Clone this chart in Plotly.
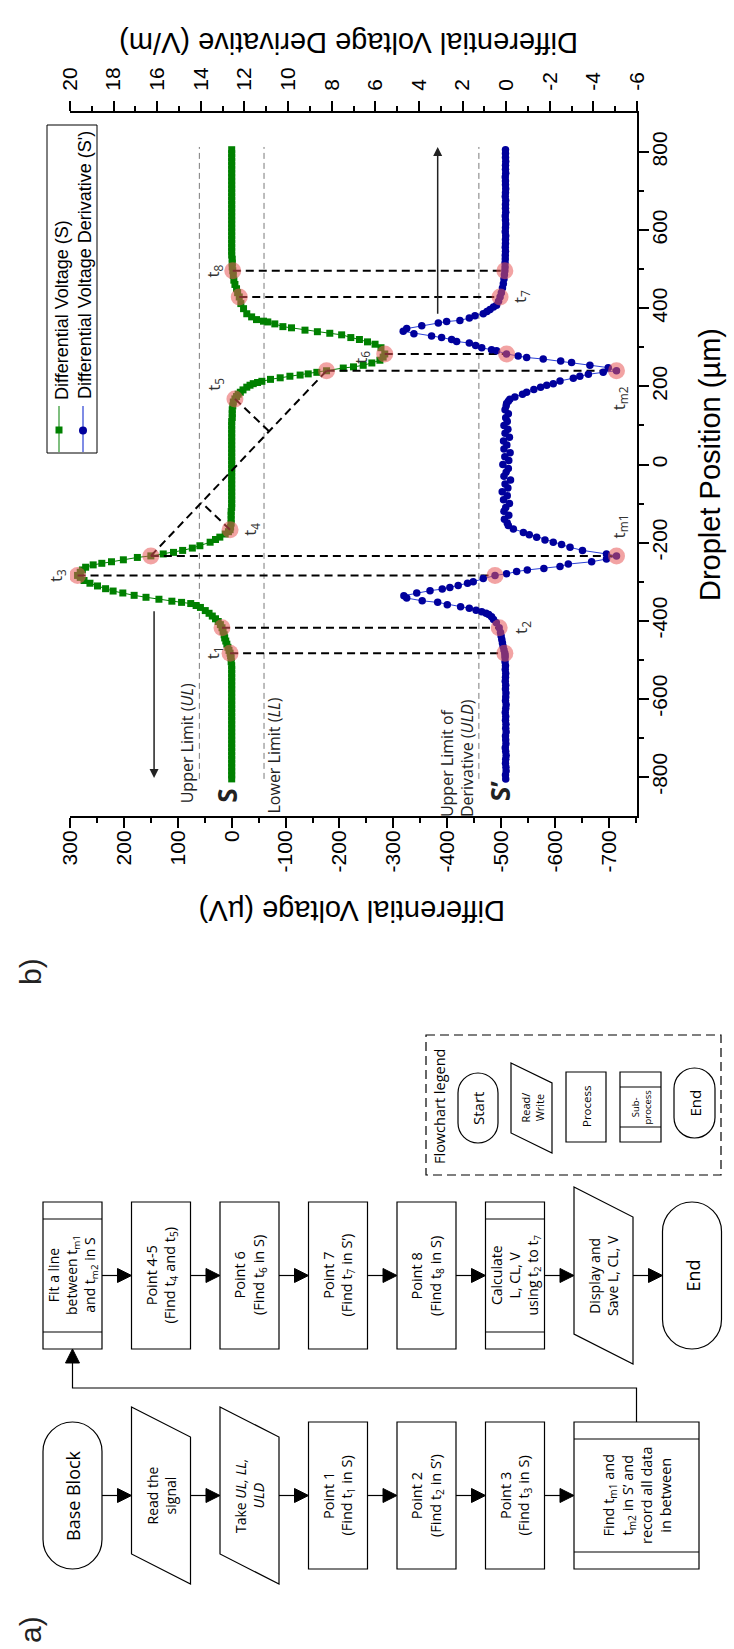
import plotly.graph_objects as go

W, H = 734, 1649

# ---------------- data ----------------
# Differential voltage S (µV) against droplet position (µm)
S_pos = [-805, -795, -785, -775, -765, -755, -745, -735, -725, -715, -705, -695, -685, -675, -665, -655,
         -645, -635, -625, -615, -605, -595, -585, -575, -565, -555, -545, -535, -525, -515, -505, -495,
         -489, -483, -476, -468, -460, -452, -444, -436, -427, -418, -410, -402, -395, -388, -381, -374,
         -366, -361, -356, -353, -350, -345, -340, -335, -329, -324, -318, -311, -304, -297, -289, -284,
         -276, -270, -263, -257, -253, -249, -244, -238, -234, -229, -225, -220, -214, -208, -199, -192,
         -186, -178, -172, -167,
         -160, -150, -140, -130, -120, -110, -100, -90, -80, -70, -60, -50, -40, -30, -20, -10, 0,
         10, 20, 30, 40, 50, 60, 70, 80, 90, 100, 110, 120, 130, 140, 150, 160,
         168, 174, 180, 185, 191, 198, 203, 207, 210, 213, 218, 222, 226, 229, 232, 236, 240, 247, 250, 254,
         260, 267, 275, 283, 299, 308, 314, 320, 325, 332, 336, 340, 344, 350, 353, 360, 365, 367, 371, 378,
         386, 399, 412, 429, 440, 450, 461, 472, 484, 496,
         506, 516, 526, 536, 546, 556, 566, 576, 586, 596, 606, 616, 626, 636, 646, 656, 666, 676, 686, 696,
         706, 716, 726, 736, 746, 756, 766, 776, 786, 796, 806]
S_uv = [0, 0, 0, 0, 0, 0, 0, 0, 0, 0, 0, 0, 0, 0, 0, 0,
        0, 0, 0, 0, 0, 0, 0, 0, 0, 0, 0, 0, 0, 0, 1, 1,
        2, 3, 5, 7, 9, 11, 13, 14, 16, 18, 21, 25, 30, 36, 42, 49,
        58, 66, 76, 93, 111, 135, 159, 181, 202, 220, 234, 249, 263, 274, 281, 286,
        281, 277, 271, 257, 241, 223, 201, 175, 150, 127, 108, 91, 73, 59, 40, 30,
        22, 12, 6, 3,
        2, 1, 1, 1, 1, 0, 0, 0, 0, 0, 0, 0, 0, 0, 0, 0, 0,
        0, 0, 0, 0, 0, 0, 0, 0, 0, 0, 0, -1, -1, -1, -2, -3,
        -6, -9, -12, -16, -21, -28, -34, -40, -48, -56, -72, -90, -108, -127, -142, -158, -176, -207, -226, -244,
        -260, -275, -281, -284, -277, -266, -252, -237, -221, -204, -182, -159, -136, -111, -95, -80, -67, -59, -46, -37,
        -28, -22, -17, -14, -11, -9, -6, -4, -3, -2,
        -1, -1, -1, 0, 0, 0, 0, 0, 0, 0, 0, 0, 0, 0, 0, 0, 0, 0, 0, 0,
        0, 0, 0, 0, 0, 0, 0, 0, 0, 0, 0]

# Differential voltage derivative S' (V/m) against droplet position (µm)
D_pos = [-805, -795, -785, -775, -765, -755, -745, -735, -725, -715, -705, -695, -685, -675, -665, -655,
         -645, -635, -625, -615, -605, -595, -585, -575, -565, -555, -545, -535, -525, -515, -505, -495,
         -489, -483, -475, -466, -457, -448, -439, -430, -418, -405, -397, -390, -384, -381, -377, -373,
         -368, -364, -359, -353, -349, -342, -336, -329, -323, -319, -315, -310, -304, -300, -292, -284,
         -280, -274, -270, -266, -261, -255, -249, -242, -234, -229, -220, -212, -205, -199, -193, -186,
         -180, -174, -165, -156,
         -150, -140, -130, -120, -110, -100, -90, -80, -70, -60, -50, -40, -30, -20, -10, 0,
         10, 20, 30, 40, 50, 60, 70, 80, 90, 100, 110, 120, 130, 140, 150,
         156, 162, 167, 173, 180, 185, 192, 198, 203, 207, 214, 221, 226, 231, 236, 240, 248, 254, 261, 265,
         270, 274, 278, 283, 291, 294, 299, 305, 311, 315, 320, 325, 329, 335, 341, 348, 355, 362, 366, 369,
         375, 381, 386, 392, 397, 403, 408, 418, 429, 440, 452, 463, 475, 486, 496,
         506, 516, 526, 536, 546, 556, 566, 576, 586, 596, 606, 616, 626, 636, 646, 656, 666, 676, 686, 696,
         706, 716, 726, 736, 746, 756, 766, 776, 786, 796, 806]
D_val = [0.02, 0.03, 0.00, 0.01, 0.03, 0.02, 0.00, 0.02, 0.04, 0.01, 0.02, 0.03, 0.00, 0.02, 0.01, 0.03,
         0.02, 0.04, 0.02, 0.00, 0.03, 0.02, 0.01, 0.03, 0.02, 0.04, 0.03, 0.02, 0.04, 0.03, 0.05, 0.05,
         0.05, 0.06, 0.10, 0.14, 0.17, 0.20, 0.23, 0.26, 0.32, 0.45, 0.58, 0.67, 0.80, 0.92, 1.12, 1.38,
         1.69, 2.09, 2.70, 3.14, 3.85, 4.56, 4.69, 4.10, 3.49, 2.93, 2.58, 2.20, 1.77, 1.51, 1.05, 0.51,
         -0.02, -0.48, -0.97, -1.73, -2.47, -2.85, -3.92, -4.60, -5.06, -4.60, -3.50, -2.93, -2.54, -2.16, -1.78, -1.40,
         -1.06, -0.79, -0.33, -0.10,
         -0.05, 0.08, -0.12, 0.10, 0.02, -0.15, 0.12, -0.05, 0.18, -0.08, 0.05, -0.20, 0.10, 0.00, -0.10, 0.15,
         -0.12, 0.06, -0.18, 0.10, -0.03, 0.12, -0.15, 0.05, -0.08, 0.10, -0.05, 0.02, -0.10, 0.05, 0.00,
         -0.02, -0.10, -0.17, -0.40, -0.75, -0.94, -1.27, -1.58, -1.86, -2.16, -2.47, -3.08, -3.38, -3.77, -4.45, -5.06, -4.68, -3.84, -3.00, -2.50,
         -1.70, -0.94, -0.55, -0.02, 0.44, 0.67, 1.12, 1.40, 1.69, 2.27, 2.50, 2.96, 3.42, 4.23, 4.72, 4.56, 3.87, 3.11, 2.73, 2.12,
         1.69, 1.43, 1.05, 0.88, 0.74, 0.58, 0.44, 0.35, 0.28, 0.22, 0.17, 0.13, 0.10, 0.08, 0.06,
         0.05, 0.05, 0.04, 0.04, 0.03, 0.04, 0.03, 0.03, 0.02, 0.04, 0.03, 0.02, 0.03, 0.04, 0.02, 0.03, 0.03, 0.02, 0.04, 0.03,
         0.02, 0.03, 0.03, 0.04, 0.02, 0.03, 0.03, 0.02, 0.03, 0.03, 0.03]

assert len(S_pos) == len(S_uv) and len(D_pos) == len(D_val)

# characteristic points (positions in µm)
S_KEYS = {"t1": -483, "t2": -418, "t3": -284, "tm1": -234, "t4": -167,
          "t5": 168, "tm2": 240, "t6": 283, "t7": 429, "t8": 496}
D_KEYS = {"t1": -483, "t2": -418, "t3": -284, "tm1": -234,
          "tm2": 240, "t6": 283, "t7": 429, "t8": 496}
LINKED = ["t1", "t2", "t3", "tm1", "tm2", "t6", "t7", "t8"]

UL, LL = 60, -60          # µV
ULD = 1.25                # V/m
LIMIT_SPAN = [-805, 813]  # µm

UV_RANGE = [300, -752]
D_RANGE = [20, -6]
POS_RANGE = [-900, 900]
UV_TICKS = [300, 200, 100, 0, -100, -200, -300, -400, -500, -600, -700]
UV_MINOR = [250, 150, 50, -50, -150, -250, -350, -450, -550, -650, -750]
D_TICKS = [20, 18, 16, 14, 12, 10, 8, 6, 4, 2, 0, -2, -4, -6]
D_MINOR = [19, 17, 15, 13, 11, 9, 7, 5, 3, 1, -1, -3, -5]
POS_TICKS = [-800, -600, -400, -200, 0, 200, 400, 600, 800]
POS_MINOR = [-700, -500, -300, -100, 100, 300, 500, 700]

# ---------------- styling ----------------
GREEN = "#008000"
NAVY = "#00009c"
BLUE_LINE = "#2b40d6"
HILITE = "rgba(232,88,88,0.55)"
AXFONT = "Liberation Sans, Arial, sans-serif"
TXFONT = "Open Sans, sans-serif"
DASH_BLACK = "8px,5px"
DASH_GRAY = "6px,4px"

FX0, FX1, FY0, FY1 = 70, 637, 113, 816   # frame of the chart in pixels


def px(x):
    return x / W


def py(y):
    return 1 - y / H


def d2uv(d):
    return UV_RANGE[0] + (d - D_RANGE[0]) * (UV_RANGE[1] - UV_RANGE[0]) / (D_RANGE[1] - D_RANGE[0])


def s_at(p):
    return S_uv[S_pos.index(p)]


def d_at(p):
    return D_val[D_pos.index(p)]


KX = (FX1 - FX0) / abs(UV_RANGE[1] - UV_RANGE[0])
KY = (FY1 - FY0) / abs(POS_RANGE[1] - POS_RANGE[0])


def foot(p, a, b):
    """Foot of the perpendicular from p onto line a-b, measured on screen."""
    P = (p[0] * KX, p[1] * KY)
    A = (a[0] * KX, a[1] * KY)
    B = (b[0] * KX, b[1] * KY)
    dx, dy = B[0] - A[0], B[1] - A[1]
    t = ((P[0] - A[0]) * dx + (P[1] - A[1]) * dy) / (dx * dx + dy * dy)
    return ((A[0] + t * dx) / KX, (A[1] + t * dy) / KY)


def note(**kw):
    base = dict(showarrow=False, xanchor="center", yanchor="middle")
    base.update(kw)
    return base


fig = go.Figure()

# S trace
fig.add_trace(go.Scatter(x=S_uv, y=S_pos, mode="lines+markers", xaxis="x", yaxis="y",
                         line=dict(color=GREEN, width=1),
                         marker=dict(symbol="square", size=7, color=GREEN),
                         hoverinfo="skip"))

# dashed connectors between S and S' at the characteristic points
for k in LINKED:
    p = S_KEYS[k]
    fig.add_trace(go.Scatter(x=[s_at(p), d2uv(d_at(D_KEYS[k]))], y=[p, D_KEYS[k]], mode="lines",
                             xaxis="x", yaxis="y",
                             line=dict(color="black", width=2, dash=DASH_BLACK), hoverinfo="skip"))

# fitted line between tm1 and tm2 in S, with perpendiculars from t4 and t5
A = (s_at(S_KEYS["tm1"]), S_KEYS["tm1"])
B = (s_at(S_KEYS["tm2"]), S_KEYS["tm2"])
fig.add_trace(go.Scatter(x=[A[0], B[0]], y=[A[1], B[1]], mode="lines", xaxis="x", yaxis="y",
                         line=dict(color="black", width=2, dash=DASH_BLACK), hoverinfo="skip"))
for k in ["t4", "t5"]:
    P = (s_at(S_KEYS[k]), S_KEYS[k])
    F = foot(P, A, B)
    fig.add_trace(go.Scatter(x=[P[0], F[0]], y=[P[1], F[1]], mode="lines", xaxis="x", yaxis="y",
                             line=dict(color="black", width=2, dash=DASH_BLACK), hoverinfo="skip"))

# highlighted points on S
fig.add_trace(go.Scatter(x=[s_at(p) for p in S_KEYS.values()], y=list(S_KEYS.values()),
                         mode="markers", xaxis="x", yaxis="y",
                         marker=dict(size=17, color=HILITE), hoverinfo="skip"))

# S' trace
fig.add_trace(go.Scatter(x=D_val, y=D_pos, mode="lines+markers", xaxis="x2", yaxis="y",
                         line=dict(color=BLUE_LINE, width=1),
                         marker=dict(symbol="circle", size=7.5, color=NAVY),
                         hoverinfo="skip"))
fig.add_trace(go.Scatter(x=[d_at(p) for p in D_KEYS.values()], y=list(D_KEYS.values()),
                         mode="markers", xaxis="x2", yaxis="y",
                         marker=dict(size=17, color=HILITE), hoverinfo="skip"))

shapes = []
annotations = []

# limit lines
for xv, ref in [(UL, "x"), (LL, "x"), (ULD, "x2")]:
    shapes.append(dict(type="line", xref=ref, yref="y", x0=xv, x1=xv, y0=LIMIT_SPAN[0], y1=LIMIT_SPAN[1],
                       line=dict(color="#7a7a7a", width=1, dash=DASH_GRAY), layer="below"))

# labels of the characteristic points
LABEL_OFFSETS = [("t1", "S", -17, 0), ("t2", "D", 23, 0), ("t3", "S", -21, 0), ("t4", "S", 21, 0),
                 ("t5", "S", -20, 15), ("t6", "S", -23, -3), ("t7", "D", 21, 0), ("t8", "S", -19, 0),
                 ("tm1", "D", 3, 29), ("tm2", "D", 3, -28)]
for k, series, dx, dy in LABEL_OFFSETS:
    if series == "S":
        xv, ref, yv = s_at(S_KEYS[k]), "x", S_KEYS[k]
    else:
        xv, ref, yv = d_at(D_KEYS[k]), "x2", D_KEYS[k]
    annotations.append(note(x=xv, y=yv, xref=ref, yref="y", xshift=dx, yshift=dy,
                            text="t<sub>" + k[1:] + "</sub>", textangle=-90,
                            font=dict(family=TXFONT, size=17, color="#333333")))

# limit captions and series tags
annotations += [
    note(x=UL, y=-713, xref="x", yref="y", xshift=-12, text="Upper Limit (<i>UL</i>)",
         textangle=-90, font=dict(family=TXFONT, size=16, color="#222")),
    note(x=LL, y=-745, xref="x", yref="y", xshift=10, text="Lower Limit (<i>LL</i>)",
         textangle=-90, font=dict(family=TXFONT, size=16, color="#222")),
    note(x=ULD, y=-752, xref="x2", yref="y", xshift=-22, text="Upper Limit of<br>Derivative (<i>ULD</i>)",
         textangle=-90, align="left", font=dict(family=TXFONT, size=16, color="#222")),
    note(x=0, y=-849, xref="x", yref="y", xshift=-5, text="<b>S</b>", textangle=-90,
         font=dict(family=TXFONT, size=26, color="#222")),
    note(x=0, y=-836, xref="x2", yref="y", xshift=-6, text="<b>S’</b>", textangle=-90,
         font=dict(family=TXFONT, size=26, color="#222")),
]

# direction arrows
annotations += [
    dict(x=144, y=-803, ax=144, ay=-372, xref="x", yref="y", axref="x", ayref="y", text="",
         showarrow=True, arrowhead=2, arrowsize=1.2, arrowwidth=1.5, arrowcolor="#222"),
    dict(x=3.14, y=813, ax=3.14, ay=382, xref="x2", yref="y", axref="x2", ayref="y", text="",
         showarrow=True, arrowhead=2, arrowsize=1.2, arrowwidth=1.5, arrowcolor="#222"),
]

# axis titles and panel letters
annotations += [
    note(x=px(349), y=py(43), xref="paper", yref="paper", text="Differential Voltage Derivative (V/m)",
         textangle=180, font=dict(family=AXFONT, size=29, color="black")),
    note(x=px(352), y=py(911), xref="paper", yref="paper", text="Differential Voltage (µV)",
         textangle=180, font=dict(family=AXFONT, size=29, color="black")),
    note(x=px(710), y=py(465), xref="paper", yref="paper", text="Droplet Position (µm)",
         textangle=-90, font=dict(family=AXFONT, size=29, color="black")),
    note(x=px(30), y=py(972), xref="paper", yref="paper", text="b)", textangle=-90,
         font=dict(family=AXFONT, size=30, color="#222")),
    note(x=px(30), y=py(1630), xref="paper", yref="paper", text="a)", textangle=-90,
         font=dict(family=AXFONT, size=30, color="#222")),
]

# series key
shapes += [
    dict(type="rect", xref="paper", yref="paper", x0=px(47), x1=px(97), y0=py(453), y1=py(125),
         line=dict(color="black", width=1)),
    dict(type="line", xref="paper", yref="paper", x0=px(59), x1=px(59), y0=py(452), y1=py(406),
         line=dict(color="#55aa55", width=1.5)),
    dict(type="rect", xref="paper", yref="paper", x0=px(55.5), x1=px(62.5), y0=py(433.5), y1=py(426.5),
         line=dict(width=0), fillcolor=GREEN),
    dict(type="line", xref="paper", yref="paper", x0=px(83), x1=px(83), y0=py(452), y1=py(406),
         line=dict(color="#5566dd", width=1.5)),
    dict(type="circle", xref="paper", yref="paper", x0=px(79), x1=px(87), y0=py(434.5), y1=py(426.5),
         line=dict(width=0), fillcolor=NAVY),
]
annotations += [
    note(x=px(62), y=py(310), xref="paper", yref="paper", text="Differential Voltage (S)",
         textangle=-90, font=dict(family=AXFONT, size=18, color="black")),
    note(x=px(85), y=py(265), xref="paper", yref="paper", text="Differential Voltage Derivative (S')",
         textangle=-90, font=dict(family=AXFONT, size=18, color="black")),
]


# ---------------- flowchart ----------------
def pth(*segs, close=True):
    out = []
    for cmd, pts in segs:
        n = 3 if cmd == "C" else 1
        for i in range(0, len(pts), n):
            out.append(cmd + " " + " ".join(f"{px(x):.5f},{py(y):.5f}" for x, y in pts[i:i + n]))
    return " ".join(out) + (" Z" if close else "")


def outline(path, dash=None, width=1.2):
    ln = dict(color="black", width=width)
    if dash:
        ln["dash"] = dash
    return dict(type="path", xref="paper", yref="paper", path=path, line=ln)


def stadium(x0, y0, x1, y1):
    r = (x1 - x0) / 2
    xc = (x0 + x1) / 2
    k = 0.5523 * r
    return outline(pth(("M", [(x0, y0 + r)]), ("L", [(x0, y1 - r)]),
                       ("C", [(x0, y1 - r + k), (xc - k, y1), (xc, y1)]),
                       ("C", [(xc + k, y1), (x1, y1 - r + k), (x1, y1 - r)]),
                       ("L", [(x1, y0 + r)]),
                       ("C", [(x1, y0 + r - k), (xc + k, y0), (xc, y0)]),
                       ("C", [(xc - k, y0), (x0, y0 + r - k), (x0, y0 + r)])))


def rect(x0, y0, x1, y1, dash=None):
    return outline(pth(("M", [(x0, y0)]), ("L", [(x1, y0), (x1, y1), (x0, y1)])), dash=dash)


def hline(x0, x1, y):
    return outline(pth(("M", [(x0, y)]), ("L", [(x1, y)]), close=False))


def para(x0, y0, x1, y1, skew):
    return outline(pth(("M", [(x0, y0 - skew)]), ("L", [(x1, y0 + skew), (x1, y1 + skew), (x0, y1 - skew)])))


def head(tip, direction, length=14, half=7):
    x, y = tip
    if direction == "right":
        pts = [(x - length, y - half), (x - length, y + half)]
    else:  # up
        pts = [(x - half, y + length), (x + half, y + length)]
    return dict(type="path", xref="paper", yref="paper", fillcolor="black", line=dict(color="black", width=1),
                path=pth(("M", [(x, y)]), ("L", pts)))


def node(kind, x0, y0, x1, y1, inset=17):
    if kind == "term":
        return [stadium(x0, y0, x1, y1)]
    if kind == "io":
        return [para(x0, y0, x1, y1, 15)]
    if kind == "sub":
        return [rect(x0, y0, x1, y1), hline(x0, x1, y0 + inset), hline(x0, x1, y1 - inset)]
    return [rect(x0, y0, x1, y1)]


def label(cx, cy, text, size=14.5):
    return note(x=px(cx), y=py(cy), xref="paper", yref="paper", text=text, textangle=-90,
                font=dict(family=TXFONT, size=size, color="black"), align="center")


FLOW_LOWER = [("term", "Base Block", 18), ("io", "Read the<br>signal", 14),
              ("io", "Take <i>UL, LL,</i><br><i>ULD</i>", 14),
              ("proc", "Point 1<br>(Find t<sub>1</sub> in S)", 14.5),
              ("proc", "Point 2<br>(Find t<sub>2</sub> in S’)", 14.5),
              ("proc", "Point 3<br>(Find t<sub>3</sub> in S)", 14.5),
              ("sub", "Find t<sub>m1</sub> and<br>t<sub>m2</sub> in S’ and<br>record all data<br>in between", 14.5)]
FLOW_UPPER = [("sub", "Fit a line<br>between t<sub>m1</sub><br>and t<sub>m2</sub> in S", 14),
              ("proc", "Point 4-5<br>(Find t<sub>4</sub> and t<sub>5</sub>)", 14.5),
              ("proc", "Point 6<br>(Find t<sub>6</sub> in S)", 14.5),
              ("proc", "Point 7<br>(Find t<sub>7</sub> in S’)", 14.5),
              ("proc", "Point 8<br>(Find t<sub>8</sub> in S)", 14.5),
              ("sub", "Calculate<br>L, CL, V<br>using t<sub>2</sub> to t<sub>7</sub>", 14),
              ("io", "Display and<br>Save L, CL, V", 14),
              ("term", "End", 18)]

COL0, STEP, BOXW = 43, 88.5, 59
ROWS = [(FLOW_LOWER, 1422, 1569), (FLOW_UPPER, 1202, 1349)]
for steps, y0, y1 in ROWS:
    cy = (y0 + y1) / 2
    prev_right = None
    for i, (kind, text, size) in enumerate(steps):
        x0 = COL0 + STEP * i
        x1 = x0 + (125 if (steps is FLOW_LOWER and i == len(steps) - 1) else BOXW)
        shapes += node(kind, x0, y0, x1, y1)
        annotations.append(label((x0 + x1) / 2, cy, text, size))
        if prev_right is not None:
            shapes.append(hline(prev_right, x0 - 13, cy))
            shapes.append(head((x0, cy), "right"))
        prev_right = x1

# link from the last lower step to the first upper step
last_lower_cx = COL0 + STEP * (len(FLOW_LOWER) - 1) + 125 / 2
first_upper_cx = COL0 + BOXW / 2
shapes.append(outline(pth(("M", [(last_lower_cx, 1422)]),
                          ("L", [(last_lower_cx, 1388), (first_upper_cx, 1388), (first_upper_cx, 1363)]),
                          close=False)))
shapes.append(head((first_upper_cx, 1349), "up"))

# flowchart key
shapes.append(rect(426, 1035, 721, 1175, dash="9px,5px"))
annotations.append(label(439, 1107, "Flowchart legend", 14.5))
shapes.append(stadium(458, 1073, 498, 1143))
annotations.append(label(478, 1108, "Start", 15))
shapes.append(outline(pth(("M", [(511, 1063)]), ("L", [(552, 1083), (552, 1153), (511, 1133)]))))
annotations.append(label(531.5, 1108, "Read/<br>Write", 11))
shapes.append(rect(566, 1072, 606, 1142))
annotations.append(label(586, 1107, "Process", 11.5))
shapes += [rect(620, 1072, 661, 1142), hline(620, 661, 1087), hline(620, 661, 1127)]
annotations.append(label(640.5, 1107, "Sub-<br>process", 9.5))
shapes.append(stadium(674, 1068, 715, 1138))
annotations.append(label(694.5, 1103, "End", 15))

# ---------------- axes ----------------
tick_style = dict(showline=True, linecolor="black", linewidth=2, ticks="outside", ticklen=10,
                  tickwidth=2, tickcolor="black", showgrid=False, zeroline=False, automargin=False,
                  tickangle=-90, tickfont=dict(family=AXFONT, size=21, color="black"))

fig.update_layout(
    width=W, height=H, margin=dict(l=0, r=0, t=0, b=0, autoexpand=False),
    paper_bgcolor="white", plot_bgcolor="rgba(0,0,0,0)", showlegend=False,
    xaxis=dict(domain=[px(FX0), px(FX1)], range=UV_RANGE, anchor="y", side="bottom",
               tickmode="array", tickvals=UV_TICKS, ticktext=[str(v) for v in UV_TICKS],
               ticklabelstandoff=-6,
               minor=dict(tickvals=UV_MINOR, ticklen=5, tickwidth=2, tickcolor="black", ticks="outside"),
               **tick_style),
    xaxis2=dict(range=D_RANGE, overlaying="x", anchor="y", side="top",
                tickmode="array", tickvals=D_TICKS, ticktext=[str(v) for v in D_TICKS],
                ticklabelstandoff=6,
                minor=dict(tickvals=D_MINOR, ticklen=5, tickwidth=2, tickcolor="black", ticks="outside"),
                **tick_style),
    yaxis=dict(domain=[py(FY1), py(FY0)], range=POS_RANGE, anchor="x", side="right",
               tickmode="array", tickvals=POS_TICKS, ticktext=[str(v) for v in POS_TICKS],
               ticklabelstandoff=-7,
               minor=dict(tickvals=POS_MINOR, ticklen=5, tickwidth=2, tickcolor="black", ticks="outside"),
               **tick_style),
    shapes=shapes,
    annotations=annotations,
)

fig.write_html("out.html")
